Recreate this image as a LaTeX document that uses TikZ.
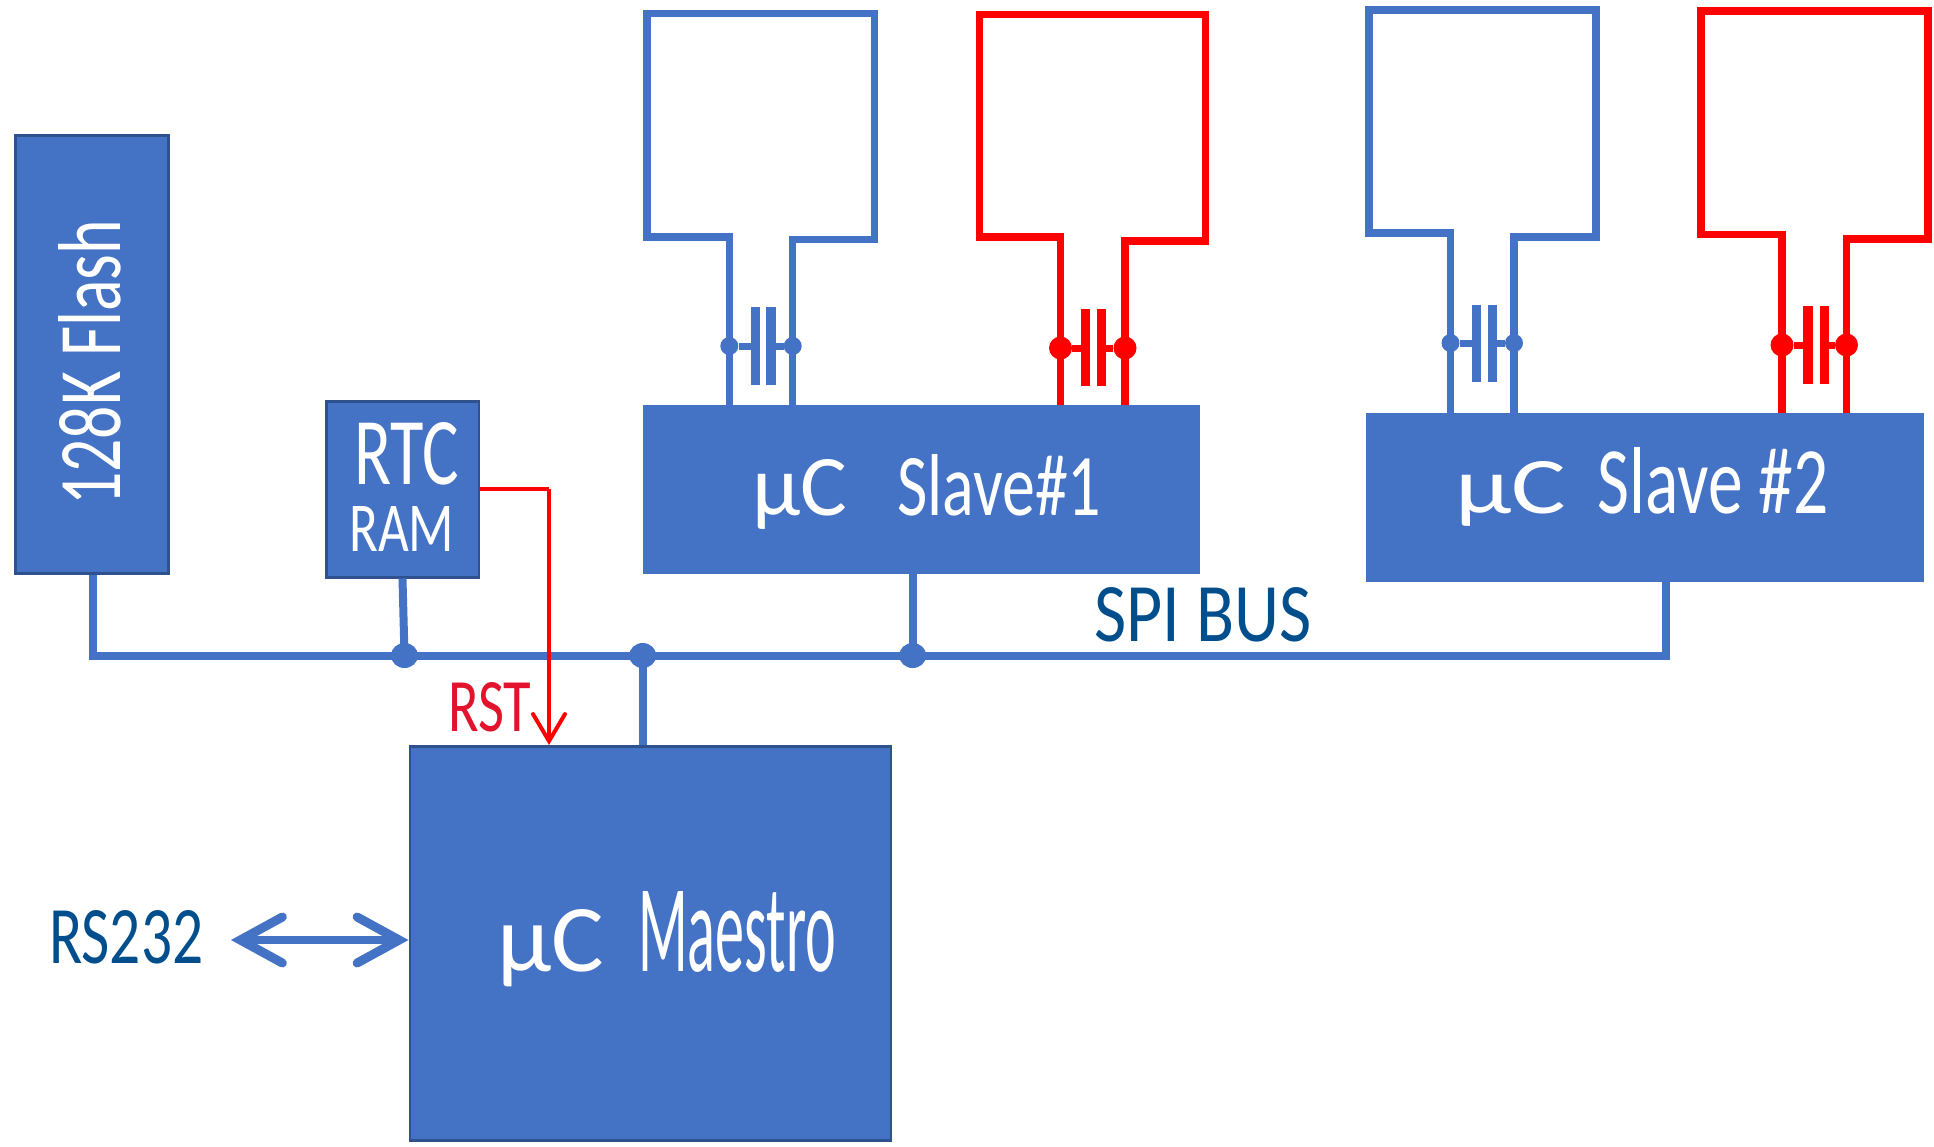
\documentclass[tikz,border=0pt]{standalone}
\usepackage{graphicx}
\usepackage{fontspec}
\setmainfont{Carlito}
\usetikzlibrary{arrows.meta,shapes.geometric}
\definecolor{boxblue}{HTML}{4472C4}
\definecolor{boxedge}{HTML}{2F528F}
\definecolor{inkblue}{HTML}{004E8C}
\definecolor{inkred}{HTML}{E3122D}
\definecolor{wirered}{HTML}{FF0000}
\newcommand{\fitbox}[3]{\resizebox{#1pt}{#2pt}{#3}}
\tikzset{
  x=1pt,y=-1pt,
  blockbox/.style={fill=boxblue,draw=boxedge,line width=2.5pt,anchor=north west,inner sep=0pt},
  plainbox/.style={fill=boxblue,draw=none,anchor=north west,inner sep=0pt},
  hand/.style={inner sep=0pt,anchor=base west,text=white},
  bus/.style={draw=boxblue,line width=8pt},
  loopb/.style={draw=boxblue,line width=7.5pt,line join=miter},
  loopr/.style={draw=wirered,line width=7.5pt,line join=miter},
  plateb/.style={draw=boxblue,line width=9.5pt},
  plater/.style={draw=wirered,line width=9.5pt},
  crossb/.style={draw=boxblue,line width=7pt},
  crossr/.style={draw=wirered,line width=7pt},
  dotb/.style={circle,fill=boxblue,inner sep=0pt,minimum size=18pt},
  dotr/.style={circle,fill=wirered,inner sep=0pt,minimum size=23pt},
  busdot/.style={ellipse,fill=boxblue,inner sep=0pt,minimum width=27pt,minimum height=25pt},
  rsttip/.style={-{Straight Barb[length=27pt,width=32pt,line width=4pt,line cap=round]}},
  rstip/.style={{Straight Barb[length=42pt,width=46pt,line cap=round,line width=9pt]}-{Straight Barb[length=42pt,width=46pt,line cap=round,line width=9pt]}},
}
\begin{document}
\begin{tikzpicture}
\useasboundingbox (0,0) rectangle (1934,1146);
% --- slave blocks
\node[plainbox,minimum width=557.5pt,minimum height=169pt] (slaveA) at (642.5,404.5) {};
\node[plainbox,minimum width=558.5pt,minimum height=169pt] (slaveB) at (1365.5,413) {};
\coordinate (a1) at (729.3,404.5); \coordinate (a2) at (792.7,404.5);
\coordinate (b1) at (1060.5,404.5); \coordinate (b2) at (1125,404.5);
\coordinate (c1) at (1450.5,413); \coordinate (c2) at (1514,413);
\coordinate (d1) at (1782,413); \coordinate (d2) at (1846.5,413);
% loop A
\draw[loopb] (a1) -- (729.3,237) -- (647,237) -- (647,13.5) -- (874.5,13.5) -- (874.5,239.5) -- (792.7,239.5) -- (a2);
\node[dotb] (a1d) at (729.3,346) {}; \node[dotb] (a2d) at (792.7,346) {};
\draw[plateb] (755.7,307) -- (755.7,385); \draw[plateb] (771,307) -- (771,385);
\coordinate (a1p) at (755.7,346); \coordinate (a2p) at (771,346);
\draw[crossb] (a1d) -- (a1p); \draw[crossb] (a2d) -- (a2p);
% loop B
\draw[loopr] (b1) -- (1060.5,237) -- (979.5,237) -- (979.5,14.5) -- (1205.5,14.5) -- (1205.5,241) -- (1125,241) -- (b2);
\node[dotr] (b1d) at (1060.5,348) {}; \node[dotr] (b2d) at (1125,348) {};
\draw[plater] (1085.5,309) -- (1085.5,386); \draw[plater] (1101.5,309) -- (1101.5,386);
\coordinate (b1p) at (1085.5,348); \coordinate (b2p) at (1101.5,348);
\draw[crossr] (b1d) -- (b1p); \draw[crossr] (b2d) -- (b2p);
% loop C
\draw[loopb] (c1) -- (1450.5,233) -- (1369,233) -- (1369,10) -- (1596,10) -- (1596,237) -- (1514,237) -- (c2);
\node[dotb] (c1d) at (1450.5,343) {}; \node[dotb] (c2d) at (1514,343) {};
\draw[plateb] (1476.5,304.5) -- (1476.5,382); \draw[plateb] (1492.5,304.5) -- (1492.5,382);
\coordinate (c1p) at (1476.5,343); \coordinate (c2p) at (1492.5,343);
\draw[crossb] (c1d) -- (c1p); \draw[crossb] (c2d) -- (c2p);
% loop D
\draw[loopr] (d1) -- (1782,234.5) -- (1701,234.5) -- (1701,11) -- (1928,11) -- (1928,239) -- (1846.5,239) -- (d2);
\node[dotr] (d1d) at (1782,345) {}; \node[dotr] (d2d) at (1846.5,345) {};
\draw[plater] (1808,306) -- (1808,383.5); \draw[plater] (1824.5,306) -- (1824.5,383.5);
\coordinate (d1p) at (1808,345); \coordinate (d2p) at (1824.5,345);
\draw[crossr] (d1d) -- (d1p); \draw[crossr] (d2d) -- (d2p);
% --- blocks
\node[blockbox,minimum width=153pt,minimum height=438pt] (flash) at (14,134) {};
\node[blockbox,minimum width=152.5pt,minimum height=176pt] (rtc) at (325,400) {};
\node[blockbox,minimum width=481pt,minimum height=394pt] (maestro) at (408.5,745) {};
% --- bus
\coordinate (busL) at (92.5,655.5); \coordinate (busR) at (1666,655.5);
\node[busdot] (j1) at (404.5,655.5) {};
\node[busdot] (j2) at (642.7,655.5) {};
\node[busdot] (j3) at (912.7,655.5) {};
\draw[bus,line cap=rect] (busL) -- (busR);
\draw[bus] (busL |- flash.south) -- (busL);
\draw[bus] (rtc.south) -- (j1.center);
\draw[bus] (j2.center) -- (j2 |- maestro.north);
\draw[bus] (j3 |- slaveA.south) -- (j3.center);
\draw[bus] (busR |- slaveB.south) -- (busR);
% --- reset line
\coordinate (rstc) at (549,489);
\draw[draw=wirered,line width=4pt] (rtc.east |- rstc) -- (rstc);
\draw[draw=wirered,line width=4pt,rsttip] (rstc) -- (rstc |- maestro.north);
% --- RS232 arrow
\coordinate (rsend) at (231,940);
\draw[draw=boxblue,line width=8pt,rstip] (rsend) -- (rsend -| maestro.west);
% --- text
\node[hand] (tslaveA) at (752,515) {\fitbox{95}{56}{µC}\hspace{50pt}\fitbox{204}{61}{Slave\#1}};
\node[hand] (tslaveB) at (1455,513) {\fitbox{111}{52}{µC}\hspace{31pt}\fitbox{231}{66}{Slave \#2}};
\node[hand] (tmaestro) at (497,971) {\fitbox{107}{62}{µC}\hspace{34pt}\fitbox{198}{80}{Maestro}};
\node[hand,rotate=90] (tflash) at (120,506) {\fitbox{286}{62}{128K Flash}};
\node[hand] (trtc) at (354,484) {\fitbox{105}{62}{RTC}};
\node[hand] (tram) at (349,551) {\fitbox{105}{45}{RAM}};
\node[hand,text=inkred] (trst) at (448,731) {\fitbox{83}{49}{RST}};
\node[hand,text=inkblue] (tspi) at (1094,641) {\fitbox{217}{54}{SPI BUS}};
\node[hand,text=inkblue] (trs) at (49,963) {\fitbox{154}{53}{RS232}};
\end{tikzpicture}
\end{document}
